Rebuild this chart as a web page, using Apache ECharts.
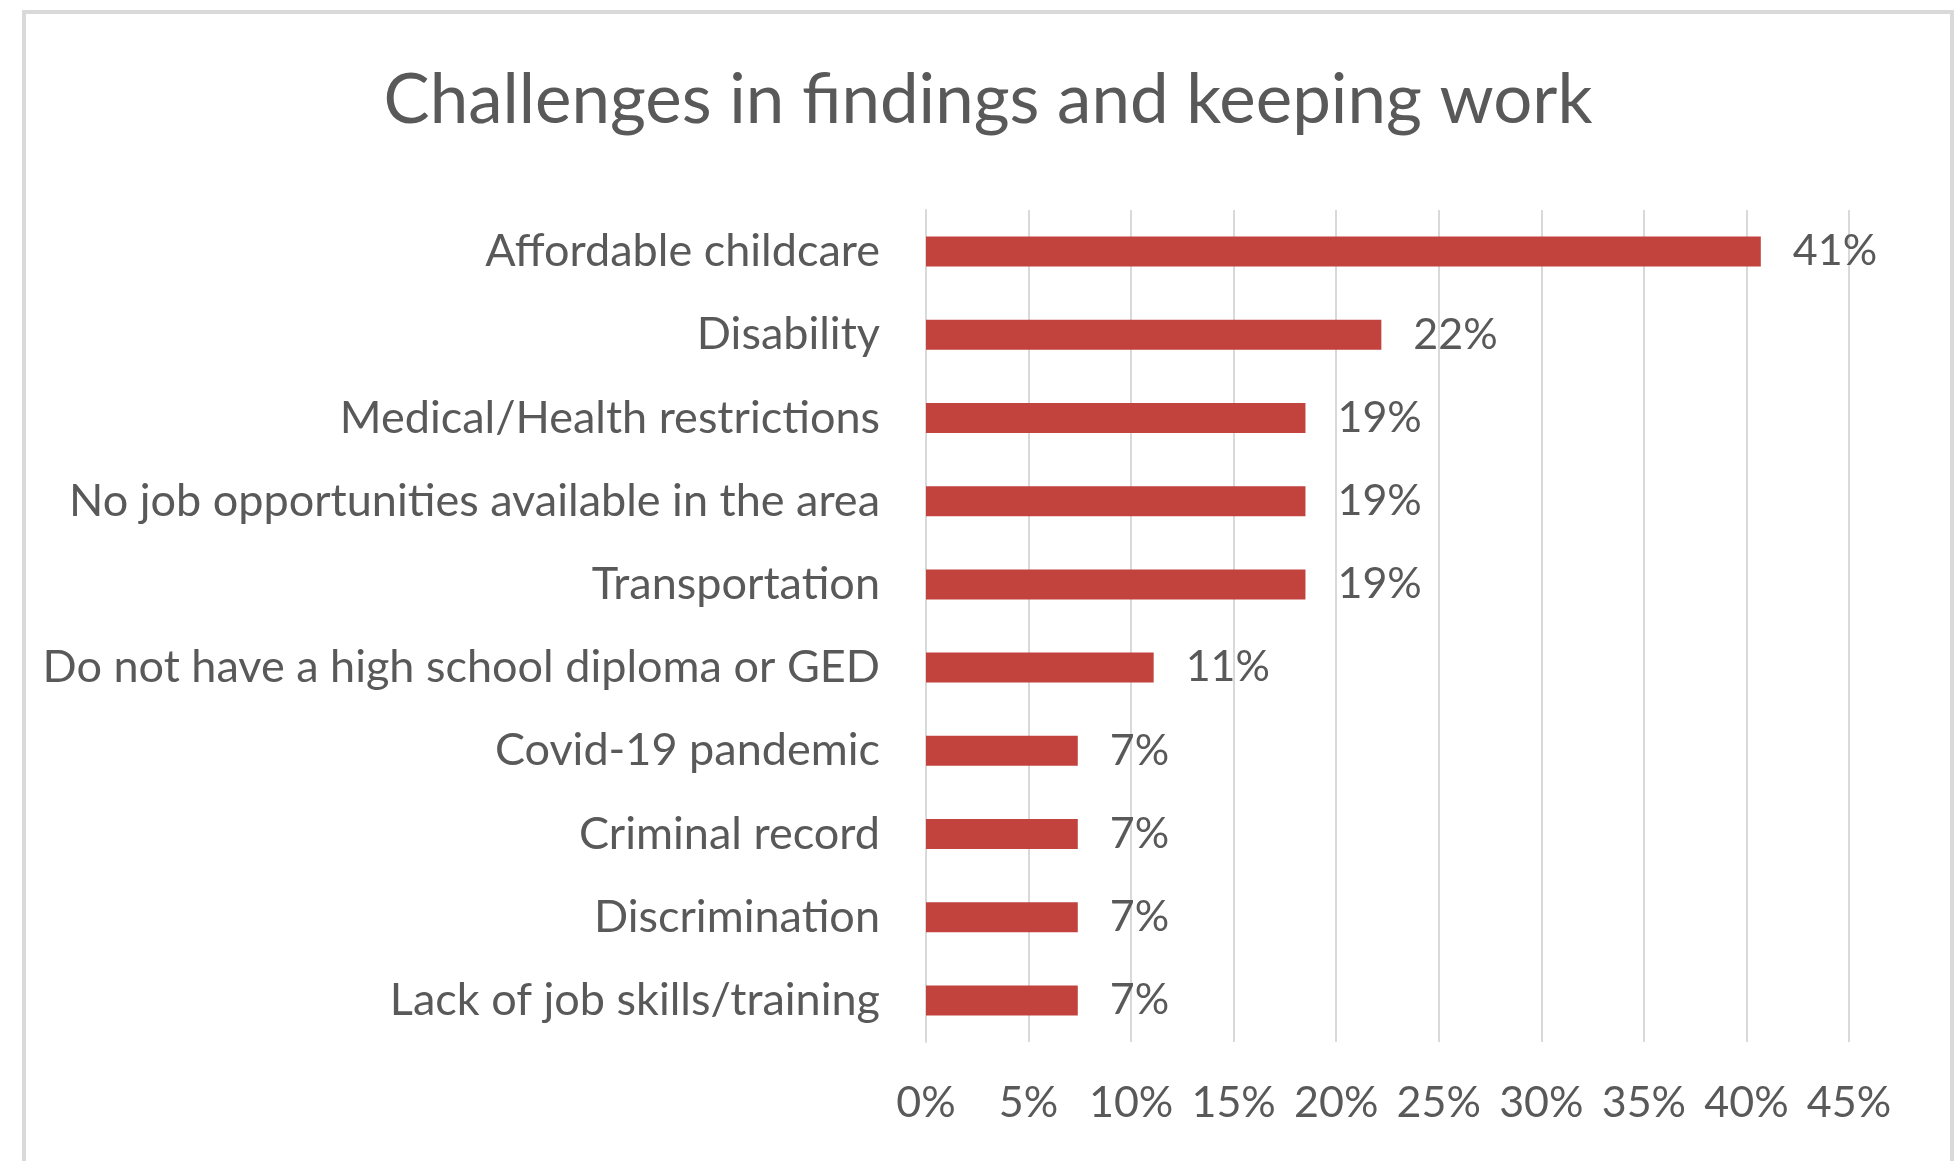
<!DOCTYPE html>
<html lang="en">
<head>
    <meta charset="UTF-8">
    <title>Challenges in findings and keeping work</title>
    <script src="https://cdn.jsdelivr.net/npm/echarts@6/dist/echarts.min.js"></script>
    <style>
        html, body { margin: 0; padding: 0; background: #fff; }
        #main { width: 1956px; height: 1161px; }
    </style>
</head>
<body>
<div id="main"></div>
<script type="text/javascript">
    // categories top -> bottom
    var categories = [
        'Affordable childcare',
        'Disability',
        'Medical/Health restrictions',
        'No job opportunities available in the area',
        'Transportation',
        'Do not have a high school diploma or GED',
        'Covid-19 pandemic',
        'Criminal record',
        'Discrimination',
        'Lack of job skills/training'
    ];
    // share of respondents, in %
    var shares = [40.7, 22.2, 18.5, 18.5, 18.5, 11.1, 7.4, 7.4, 7.4, 7.4];
    var axisTicks = [0, 5, 10, 15, 20, 25, 30, 35, 40, 45];

    var textColor = '#595959';
    var fontName = 'Lato, "Open Sans", sans-serif';

    var chart = echarts.init(document.getElementById('main'));

    var option = {
        backgroundColor: '#ffffff',
        animation: false,
        title: {
            text: 'Challenges in findings and keeping work',
            left: 983,
            top: 61,
            textAlign: 'center',
            textStyle: {
                color: textColor,
                fontFamily: fontName,
                fontWeight: 'normal',
                fontSize: 69
            }
        },
        graphic: [{
            type: 'rect',
            silent: true,
            shape: { x: 24, y: 12, width: 1928, height: 1200 },
            style: { fill: 'none', stroke: '#d9d9d9', lineWidth: 4 }
        }],
        grid: {
            left: 926,
            right: 107,
            top: 210,
            bottom: 119,
            containLabel: false
        },
        xAxis: {
            type: 'value',
            min: axisTicks[0],
            max: axisTicks[axisTicks.length - 1],
            interval: axisTicks[1] - axisTicks[0],
            axisLine: { show: false },
            axisTick: { show: false },
            splitLine: { show: true, lineStyle: { color: '#d9d9d9', width: 2 } },
            axisLabel: {
                margin: 40,
                color: textColor,
                fontFamily: fontName,
                fontSize: 43,
                formatter: function (v) { return v + '%'; }
            }
        },
        yAxis: {
            type: 'category',
            inverse: true,
            data: categories,
            axisLine: { show: true, lineStyle: { color: '#d9d9d9', width: 2 } },
            axisTick: { show: false },
            axisLabel: {
                margin: 46,
                color: textColor,
                fontFamily: fontName,
                fontSize: 45
            }
        },
        series: [{
            name: 'Share',
            type: 'bar',
            data: shares,
            barCategoryGap: '64%',
            itemStyle: { color: '#c2423d' },
            label: {
                show: true,
                position: 'right',
                distance: 32,
                color: textColor,
                fontFamily: fontName,
                fontSize: 43,
                formatter: function (p) { return Math.round(p.value) + '%'; }
            }
        }]
    };

    chart.setOption(option);
</script>
</body>
</html>
